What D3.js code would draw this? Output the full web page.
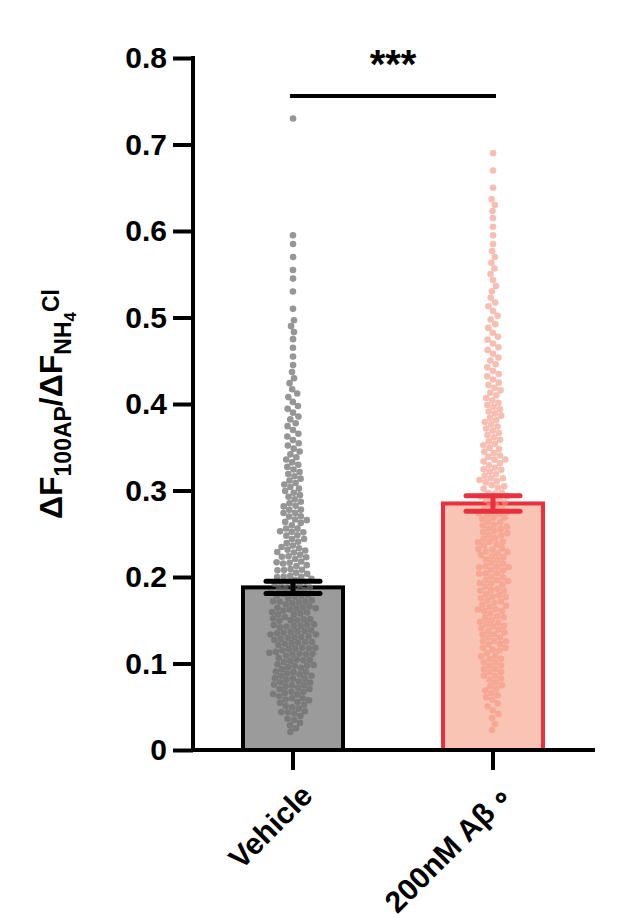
<!DOCTYPE html><html><head><meta charset="utf-8"><script src="https://cdn.jsdelivr.net/npm/d3@7"></script>
<style>body{margin:0;background:#fff}text{font-family:"Liberation Sans",Arial,sans-serif;font-weight:bold}</style></head><body><svg id="c" width="623" height="918"></svg><script>
const categories=["Vehicle","200nM Aβ\u2009\u2218"];
const yTicks=[0,0.1,0.2,0.3,0.4,0.5,0.6,0.7,0.8];
const means=[0.188,0.285];
const sems=[0.007,0.009];
const binStart=0.02, binWidth=0.02;
const vehicleCounts=[6,13,17,18,20,20,19,19,18,15,12,11,10,9,8,7,6,5,5,4,3,2,2,3,1,1,2,1,2,0,0,0,0,0,0,1];
const abetaCounts=[3,5,8,10,11,12,12,13,13,13,13,13,12,12,11,10,9,8,8,7,6,5,5,4,4,3,3,3,2,2,3,1,1,1];
const svg=d3.select("#c");
const y=d3.scaleLinear().domain([0,0.8]).range([750,58]);
const x=d3.scaleBand().domain(categories).range([193,593]).paddingInner(0.5).paddingOuter(0.25);
const fills=["#9b9b9b","#f9c4b4"],strokes=["#000","#e8303f"],dots=["rgba(110,110,110,0.72)","rgba(244,150,130,0.62)"];
function expand(c){const v=[];c.forEach((n,i)=>{for(let k=0;k<n;k++)v.push(binStart+i*binWidth+binWidth*(k+0.5)/n);});return v;}
[vehicleCounts,abetaCounts].forEach((c,gi)=>{
 const cx=x(categories[gi])+x.bandwidth()/2;
 const nodes=expand(c).map((v,i)=>({x:cx+((i*7)%11-5)*0.5,y:y(v),ty:y(v)}));
 const sim=d3.forceSimulation(nodes).force("x",d3.forceX(cx).strength(0.05)).force("y",d3.forceY(d=>d.ty).strength(0.6)).force("c",d3.forceCollide(3.3)).stop();
 for(let i=0;i<200;i++)sim.tick();
 const g=svg.append("g");
 g.append("rect").attr("x",x(categories[gi])).attr("width",x.bandwidth()).attr("y",y(means[gi])).attr("height",y(0)-y(means[gi])).attr("fill",fills[gi]).attr("stroke",strokes[gi]).attr("stroke-width",4);
 g.selectAll("circle").data(nodes).join("circle").attr("cx",d=>d.x).attr("cy",d=>d.y).attr("r",3.3).attr("fill",dots[gi]);
 const e=svg.append("g").attr("stroke",strokes[gi]).attr("stroke-width",5).attr("stroke-linecap","round");
 [means[gi]-sems[gi],means[gi]+sems[gi]].forEach(v=>e.append("line").attr("x1",cx-27).attr("x2",cx+27).attr("y1",y(v)).attr("y2",y(v)));
 e.append("line").attr("x1",cx).attr("x2",cx).attr("y1",y(means[gi]-sems[gi])).attr("y2",y(means[gi]+sems[gi]));
});
const ya=svg.append("g").attr("transform","translate(193,0)").call(d3.axisLeft(y).tickValues(yTicks).tickSize(20).tickFormat(d=>d===0?"0":d3.format(".1f")(d)));
ya.selectAll("line,path").attr("stroke","#000").attr("stroke-width",4);ya.select("path").attr("d","M0,750V56");
ya.selectAll("text").attr("font-size",30).attr("fill","#000").attr("x",-26);
const xa=svg.append("g").attr("transform","translate(0,750)").call(d3.axisBottom(x).tickSize(20));
xa.selectAll("line,path").attr("stroke","#000").attr("stroke-width",4);xa.select("path").attr("d","M193,0H595");
xa.selectAll("text").attr("font-size",30).attr("fill","#000").attr("text-anchor","end").attr("transform","translate(14,40) rotate(-45)").attr("dy","0.35em").attr("y",0);
svg.append("line").attr("x1",290).attr("x2",496).attr("y1",96).attr("y2",96).attr("stroke","#000").attr("stroke-width",4);
svg.append("text").attr("x",393).attr("y",78).attr("text-anchor","middle").attr("font-size",40).text("***");
const lab=svg.append("text").attr("transform","translate(62,404) rotate(-90)").attr("text-anchor","middle").attr("font-size",32);
lab.append("tspan").text("ΔF");lab.append("tspan").attr("font-size",23).attr("dy",9).text("100AP");
lab.append("tspan").attr("dy",-9).text("/ΔF");lab.append("tspan").attr("font-size",23).attr("dy",9).text("NH");
lab.append("tspan").attr("font-size",17).attr("dy",5).text("4");lab.append("tspan").attr("font-size",23).attr("dy",-17).text("Cl");
</script></body></html>
